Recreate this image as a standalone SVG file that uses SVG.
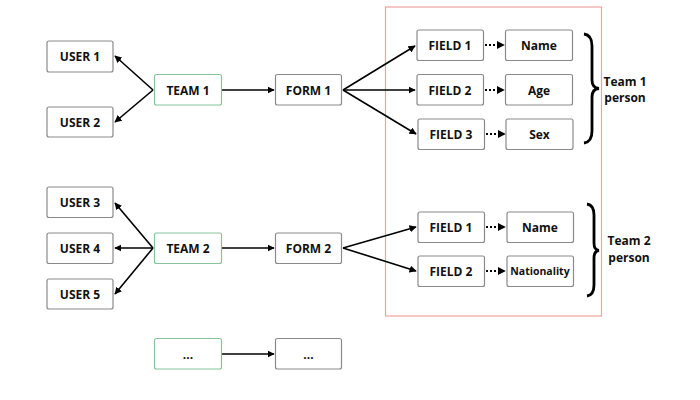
<svg xmlns="http://www.w3.org/2000/svg" width="700" height="400" viewBox="0 0 700 400">
<style>
.box{fill:#fff;stroke:#8a8a8a;stroke-width:1.2}
.team{fill:#fff;stroke:#86c59c;stroke-width:1.2}
.lbl{font-family:"Open Sans","Liberation Sans",sans-serif;font-weight:bold;font-size:12px;fill:#111;text-anchor:middle;dominant-baseline:central}
.side{font-family:"Open Sans","Liberation Sans",sans-serif;font-weight:bold;font-size:12px;fill:#111;text-anchor:middle}
.ln{stroke:#000;stroke-width:1.6;fill:none}
.dot{stroke:#000;stroke-width:1.8;fill:none;stroke-dasharray:2 2}
.brace{stroke:#000;stroke-width:2.8;fill:none}
</style>
<defs>
<marker id="ah" viewBox="0 0 10 10" refX="9" refY="5" markerWidth="4.5" markerHeight="4.5" orient="auto" markerUnits="strokeWidth">
<path d="M0,0 L10,5 L0,10 z" fill="#000"/>
</marker>
</defs>
<rect x="385.5" y="7" width="216" height="309" fill="none" stroke="#f0a2a2" stroke-width="1.2"/>
<g id="connectors">
<line class="ln" x1="153" y1="90" x2="115" y2="56" marker-end="url(#ah)"/>
<line class="ln" x1="153" y1="90" x2="115" y2="122" marker-end="url(#ah)"/>
<line class="ln" x1="222" y1="90" x2="274" y2="90" marker-end="url(#ah)"/>
<line class="ln" x1="343" y1="90" x2="415" y2="46" marker-end="url(#ah)"/>
<line class="ln" x1="343" y1="90" x2="415" y2="90" marker-end="url(#ah)"/>
<line class="ln" x1="343" y1="90" x2="416" y2="134" marker-end="url(#ah)"/>
<line class="dot" x1="485" y1="45" x2="504" y2="45" marker-end="url(#ah)"/>
<line class="dot" x1="485" y1="90" x2="504" y2="90" marker-end="url(#ah)"/>
<line class="dot" x1="486" y1="134" x2="505" y2="134" marker-end="url(#ah)"/>
<line class="ln" x1="153" y1="248" x2="115" y2="203" marker-end="url(#ah)"/>
<line class="ln" x1="153" y1="248" x2="115" y2="248" marker-end="url(#ah)"/>
<line class="ln" x1="153" y1="248" x2="115" y2="294" marker-end="url(#ah)"/>
<line class="ln" x1="222" y1="248" x2="274" y2="248" marker-end="url(#ah)"/>
<line class="ln" x1="343" y1="248" x2="416" y2="227" marker-end="url(#ah)"/>
<line class="ln" x1="343" y1="248" x2="416" y2="271" marker-end="url(#ah)"/>
<line class="dot" x1="486" y1="227" x2="505" y2="227" marker-end="url(#ah)"/>
<line class="dot" x1="486" y1="271" x2="505" y2="271" marker-end="url(#ah)"/>
<line class="ln" x1="222" y1="354" x2="274" y2="354" marker-end="url(#ah)"/>
</g>
<g id="user1"><rect class="box" x="47" y="41" width="66" height="31" rx="2"/><text class="lbl" x="80" y="56.5">USER 1</text></g>
<g id="user2"><rect class="box" x="47" y="107" width="66" height="30" rx="2"/><text class="lbl" x="80" y="122">USER 2</text></g>
<g id="team1"><rect class="team" x="154.5" y="74.5" width="67" height="30.5" rx="2"/><text class="lbl" x="188" y="90">TEAM 1</text></g>
<g id="form1"><rect class="box" x="275.5" y="74.5" width="66" height="30.5" rx="2"/><text class="lbl" x="308.5" y="90">FORM 1</text></g>
<g id="field1a"><rect class="box" x="417" y="30" width="66.5" height="30.5" rx="2"/><text class="lbl" x="450" y="45">FIELD 1</text></g>
<g id="field2a"><rect class="box" x="417" y="74.5" width="66.5" height="30.5" rx="2"/><text class="lbl" x="450" y="90">FIELD 2</text></g>
<g id="field3a"><rect class="box" x="418" y="119" width="66.5" height="30.5" rx="2"/><text class="lbl" x="451" y="134">FIELD 3</text></g>
<g id="name1"><rect class="box" x="505.5" y="30" width="67" height="30.5" rx="2"/><text class="lbl" x="539" y="45">Name</text></g>
<g id="age"><rect class="box" x="505.5" y="74.5" width="67" height="30.5" rx="2"/><text class="lbl" x="539" y="90">Age</text></g>
<g id="sex"><rect class="box" x="506" y="119" width="67" height="30.5" rx="2"/><text class="lbl" x="539.5" y="134">Sex</text></g>
<g id="team1person"><path class="brace" d="M584,34 Q592,35 592,46 L592,80 Q592,88 599,88.5 Q592,89 592,97 L592,131 Q592,142 584,143"/><text class="side" x="625" y="85.5">Team 1</text><text class="side" x="625" y="102">person</text></g>
<g id="user3"><rect class="box" x="47" y="187" width="66" height="30.5" rx="2"/><text class="lbl" x="80" y="202">USER 3</text></g>
<g id="user4"><rect class="box" x="47" y="233" width="66" height="30.5" rx="2"/><text class="lbl" x="80" y="248">USER 4</text></g>
<g id="user5"><rect class="box" x="47" y="279" width="66" height="30" rx="2"/><text class="lbl" x="80" y="294">USER 5</text></g>
<g id="team2"><rect class="team" x="154.5" y="233" width="67" height="30.5" rx="2"/><text class="lbl" x="188" y="248">TEAM 2</text></g>
<g id="form2"><rect class="box" x="275.5" y="233" width="66" height="30.5" rx="2"/><text class="lbl" x="308.5" y="248">FORM 2</text></g>
<g id="field1b"><rect class="box" x="418" y="212" width="66.5" height="30.5" rx="2"/><text class="lbl" x="451" y="227">FIELD 1</text></g>
<g id="field2b"><rect class="box" x="418" y="256" width="66.5" height="30.5" rx="2"/><text class="lbl" x="451" y="271">FIELD 2</text></g>
<g id="name2"><rect class="box" x="507" y="212" width="66.5" height="30.5" rx="2"/><text class="lbl" x="540" y="227">Name</text></g>
<g id="nationality"><rect class="box" x="507" y="256" width="66.5" height="30.5" rx="2"/><text class="lbl" x="540" y="271" style="font-size:10.5px">Nationality</text></g>
<g id="team2person"><path class="brace" d="M587,204 Q594,205 594,215 L594,243 Q594,250 599,250.5 Q594,251 594,258 L594,285 Q594,295 587,296"/><text class="side" x="629" y="245">Team 2</text><text class="side" x="629" y="262">person</text></g>
<g id="team3"><rect class="team" x="154.5" y="338.5" width="67" height="30.5" rx="2"/><text class="lbl" x="188" y="354">...</text></g>
<g id="form3"><rect class="box" x="275.5" y="338.5" width="66" height="30.5" rx="2"/><text class="lbl" x="308.5" y="354">...</text></g>
</svg>
